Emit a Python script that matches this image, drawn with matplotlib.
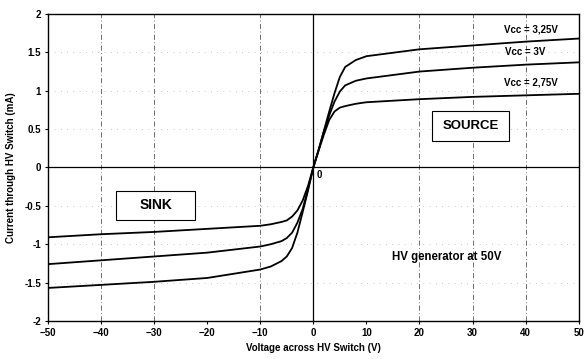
import matplotlib
matplotlib.use("Agg")
import matplotlib.pyplot as plt
from matplotlib.patches import Rectangle

plt.rcParams['font.family'] = ['Liberation Sans', 'DejaVu Sans']

voltage = [-50, -40, -30, -20, -10, -8, -6, -5, -4, -3, -2, -1, 0,
           1, 2, 3, 4, 5, 6, 8, 10, 20, 30, 40, 50]
i_325 = [-1.57, -1.53, -1.49, -1.44, -1.33, -1.29, -1.22, -1.16, -1.05, -0.85, -0.58, -0.30, 0,
         0.23, 0.48, 0.73, 0.97, 1.18, 1.31, 1.40, 1.45, 1.54, 1.59, 1.64, 1.68]
i_300 = [-1.26, -1.21, -1.16, -1.11, -1.03, -1.00, -0.96, -0.92, -0.85, -0.72, -0.54, -0.28, 0,
         0.23, 0.47, 0.68, 0.86, 0.99, 1.07, 1.13, 1.16, 1.25, 1.30, 1.34, 1.37]
i_275 = [-0.91, -0.87, -0.84, -0.80, -0.76, -0.74, -0.71, -0.69, -0.64, -0.56, -0.43, -0.24, 0,
         0.22, 0.43, 0.62, 0.73, 0.78, 0.80, 0.83, 0.85, 0.89, 0.92, 0.94, 0.96]
curve_labels = ["Vcc = 3,25V", "Vcc = 3V", "Vcc = 2,75V"]
x_ticks = [-50, -40, -30, -20, -10, 0, 10, 20, 30, 40, 50]
y_ticks = [-2, -1.5, -1, -0.5, 0, 0.5, 1, 1.5, 2]
y_tick_labels = ["-2", "-1.5", "-1", "-0.5", "0", "0.5", "1", "1.5", "2"]

fig = plt.figure(figsize=(5.84, 3.59), dpi=100)
ax = fig.add_axes([0.082, 0.106, 0.909, 0.855])

for i_vals in (i_325, i_300, i_275):
    ax.plot(voltage, i_vals, color='black', lw=1.3, solid_capstyle='round', solid_joinstyle='round')

ax.set_xlim(-50, 50)
ax.set_ylim(-2, 2)
ax.set_xticks(x_ticks)
ax.set_yticks(y_ticks)
ax.set_yticklabels(y_tick_labels)
ax.tick_params(length=2, labelsize=7, pad=3)
for lab in ax.get_xticklabels() + ax.get_yticklabels():
    lab.set_fontweight('bold')

for v in [-40, -30, -10, 20, 30, 40]:
    ax.axvline(v, color='#555555', lw=0.6, ls=(0, (6, 3, 1, 3)), zorder=0)
for h in [-1.5, -1, -0.5, 0.5, 1, 1.5]:
    ax.axhline(h, color='#999999', lw=0.5, ls=(0, (1, 8)), zorder=0)
ax.axvline(0, color='black', lw=0.9)
ax.axhline(0, color='black', lw=0.9)
for s in ax.spines.values():
    s.set_linewidth(1.0)

ax.text(0.6, -0.03, "0", fontsize=7, fontweight='bold', va='top', ha='left')

ax.text(41, 1.8, curve_labels[0], fontsize=7, fontweight='bold', ha='center', va='center')
ax.text(40, 1.5, curve_labels[1], fontsize=7, fontweight='bold', ha='center', va='center')
ax.text(41, 1.11, curve_labels[2], fontsize=7, fontweight='bold', ha='center', va='center')

ax.add_patch(Rectangle((22.4, 0.34), 14.5, 0.39, fc='white', ec='black', lw=0.8, zorder=3))
ax.text(29.65, 0.535, "SOURCE", fontsize=9.5, fontweight='bold', ha='center', va='center', zorder=4)
ax.add_patch(Rectangle((-37.1, -0.68), 14.9, 0.37, fc='white', ec='black', lw=0.8, zorder=3))
ax.text(-29.65, -0.495, "SINK", fontsize=10, fontweight='bold', ha='center', va='center', zorder=4)
ax.text(25.2, -1.17, "HV generator at 50V", fontsize=8.3, fontweight='bold', ha='center', va='center')

ax.set_xlabel("Voltage across HV Switch (V)", fontsize=7, fontweight='bold', labelpad=4)
ax.set_ylabel("Current through HV Switch (mA)", fontsize=7, fontweight='bold', labelpad=6)

fig.savefig("out.png", dpi=100)
